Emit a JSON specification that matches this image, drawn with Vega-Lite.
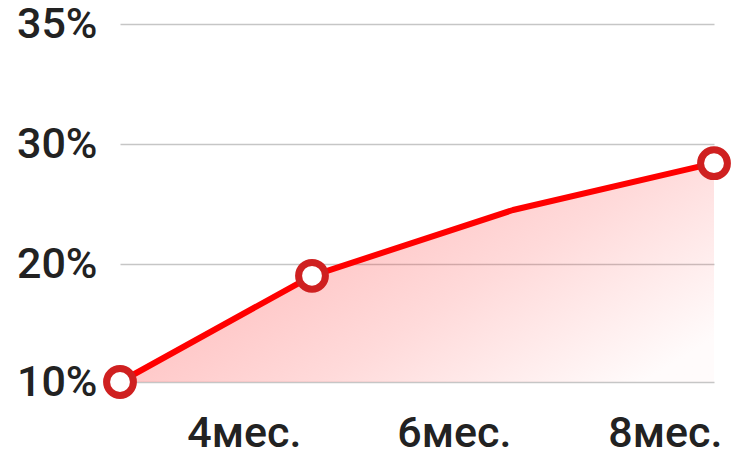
{
  "$schema": "https://vega.github.io/schema/vega-lite/v6.json",
  "autosize": "none",
  "width": 605,
  "height": 358,
  "padding": {"left": 113, "top": 24, "right": 26, "bottom": 79},
  "background": "white",
  "config": {"view": {"stroke": null}},
  "data": {
    "values": [
      {"month": 2, "pct": 10, "marker": true},
      {"month": 4, "pct": 19, "marker": true},
      {"month": 6, "pct": 24.5, "marker": false},
      {"month": 8, "pct": 28.4, "marker": true}
    ]
  },
  "encoding": {
    "x": {
      "field": "month",
      "type": "quantitative",
      "scale": {"domain": [2, 4, 6, 8], "range": [7, 199, 400, 601], "nice": false, "zero": false},
      "axis": {
        "title": null,
        "values": [4, 6, 8],
        "labelExpr": "datum.value + 'мес.'",
        "grid": false,
        "domain": false,
        "ticks": false,
        "labelAlign": "right",
        "labelBaseline": "top",
        "labelPadding": 30,
        "labelOffset": {"condition": [{"test": "datum.value == 4", "value": -11}, {"test": "datum.value == 8", "value": 8}], "value": -2},
        "labelFont": "Roboto",
        "labelFontWeight": 500,
        "labelFontSize": 43,
        "labelColor": "#222222",
        "labelFlush": false,
        "labelOverlap": false
      }
    },
    "y": {
      "field": "pct",
      "type": "quantitative",
      "scale": {"domain": [10, 20, 30, 35], "range": [358, 240, 120, 0], "nice": false, "zero": false},
      "axis": {
        "title": null,
        "values": [10, 20, 30, 35],
        "labelExpr": "datum.value + '%'",
        "grid": true,
        "gridColor": "#c6c6c6",
        "gridWidth": 1.5,
        "domain": false,
        "ticks": false,
        "labelPadding": 16,
        "labelFont": "Roboto",
        "labelFontWeight": 500,
        "labelFontSize": 43,
        "labelColor": "#222222",
        "labelFlush": false,
        "labelOverlap": false
      }
    }
  },
  "layer": [
    {
      "mark": {
        "type": "area",
        "fill": {
          "gradient": "linear",
          "x1": 0, "y1": 0.2, "x2": 1, "y2": 0.8,
          "stops": [
            {"offset": 0, "color": "rgba(255,50,50,0.38)"},
            {"offset": 0.6, "color": "rgba(255,50,50,0.18)"},
            {"offset": 1, "color": "rgba(255,50,50,0.02)"}
          ]
        }
      },
      "encoding": {"y2": {"datum": 10}}
    },
    {
      "mark": {"type": "line", "color": "#ff0000", "strokeWidth": 6, "strokeJoin": "round"}
    },
    {
      "transform": [{"filter": "datum.marker"}],
      "mark": {"type": "point", "filled": false, "fill": "white", "fillOpacity": 1, "stroke": "#cf2020", "strokeWidth": 7, "size": 720, "opacity": 1}
    }
  ]
}
